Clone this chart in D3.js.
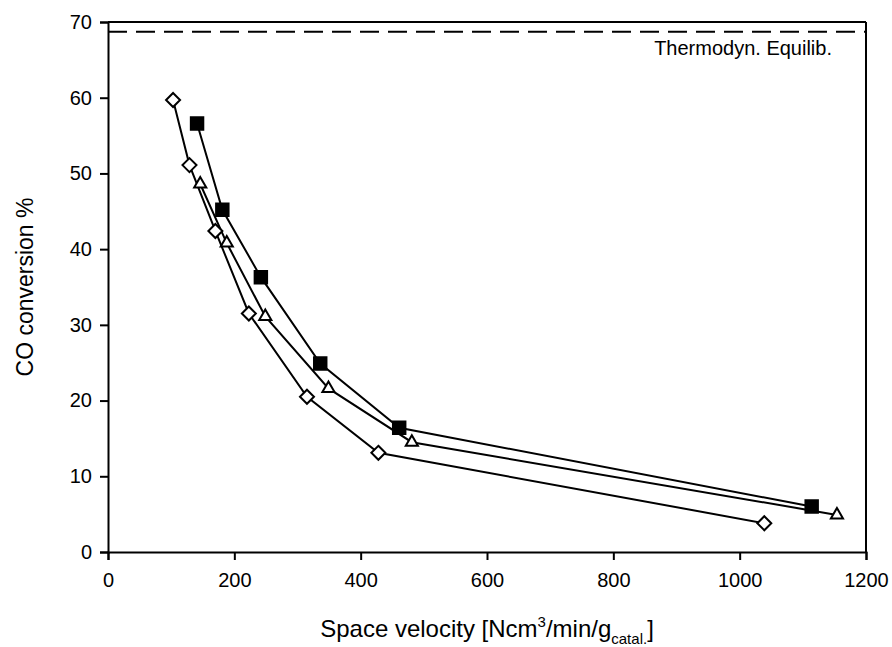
<!DOCTYPE html>
<html>
<head>
<meta charset="utf-8">
<script src="https://cdn.jsdelivr.net/npm/d3@7"></script>
<style>
  body { margin: 0; background: #fff; }
  text { font-family: "Liberation Sans", Arial, sans-serif; fill: #000; }
</style>
</head>
<body>
<div id="chart"></div>
<script>
// data
const diamondX = [103, 129, 170, 223, 315, 428, 1039];
const diamondY = [59.7, 51.1, 42.4, 31.5, 20.5, 13.1, 3.8];
const squareX = [141, 181, 242, 336, 461, 1114];
const squareY = [56.6, 45.2, 36.3, 24.9, 16.4, 6.0];
const triangleX = [146, 188, 249, 349, 481, 1154];
const triangleY = [48.6, 40.8, 31.1, 21.6, 14.5, 4.9];
const equilibrium = 68.7;
const xTicks = [0, 200, 400, 600, 800, 1000, 1200];
const yTicks = [0, 10, 20, 30, 40, 50, 60, 70];

const width = 892, height = 647;
const margin = { top: 22, right: 26, bottom: 95, left: 108 };
const w = width - margin.left - margin.right;
const h = height - margin.top - margin.bottom;

const svg = d3.select('#chart').append('svg')
  .attr('width', width).attr('height', height);
const g = svg.append('g').attr('transform', `translate(${margin.left},${margin.top})`);

const x = d3.scaleLinear().domain([0, 1200]).range([0, w]);
const y = d3.scaleLinear().domain([0, 70]).range([h, 0]);

// frame top/right
g.append('line').attr('x1', 0).attr('x2', w).attr('y1', 0).attr('y2', 0)
  .attr('stroke', '#000').attr('stroke-width', 2);
g.append('line').attr('x1', w).attr('x2', w).attr('y1', 0).attr('y2', h)
  .attr('stroke', '#000').attr('stroke-width', 2);

const xAxis = g.append('g').attr('transform', `translate(0,${h})`)
  .call(d3.axisBottom(x).tickValues(xTicks).tickSize(8).tickPadding(13).tickFormat(d3.format('d')));
const yAxis = g.append('g')
  .call(d3.axisLeft(y).tickValues(yTicks).tickSize(8).tickPadding(8).tickFormat(d3.format('d')));
[xAxis, yAxis].forEach(a => {
  a.select('.domain').attr('stroke-width', 2);
  a.selectAll('.tick line').attr('stroke-width', 2);
  a.selectAll('.tick text').style('font-family', '"Liberation Sans", Arial, sans-serif')
    .style('font-size', '20px');
});

// equilibrium line
g.append('line').attr('x1', x(0)).attr('x2', x(1200))
  .attr('y1', y(equilibrium)).attr('y2', y(equilibrium))
  .attr('stroke', '#000').attr('stroke-width', 2).attr('stroke-dasharray', '19,9');
g.append('text').attr('x', x(1200) - 34).attr('y', y(equilibrium) + 23)
  .attr('text-anchor', 'end').style('font-size', '20px').text('Thermodyn. Equilib.');

const line = d3.line().x(d => x(d[0])).y(d => y(d[1]));
const series = [
  { pts: d3.zip(diamondX, diamondY), sym: d3.symbolDiamond2, size: 125, fill: '#fff' },
  { pts: d3.zip(squareX, squareY), sym: d3.symbolSquare, size: 155, fill: '#000' },
  { pts: d3.zip(triangleX, triangleY), sym: d3.symbolTriangle2, size: 105, fill: '#fff' }
];

series.forEach(s => {
  g.append('path').datum(s.pts).attr('d', line)
    .attr('fill', 'none').attr('stroke', '#000').attr('stroke-width', 2);
});
series.forEach(s => {
  g.selectAll(null).data(s.pts).enter().append('path')
    .attr('transform', d => `translate(${x(d[0])},${y(d[1])})`)
    .attr('d', d3.symbol().type(s.sym).size(s.size))
    .attr('fill', s.fill).attr('stroke', '#000').attr('stroke-width', 2);
});

// axis titles
const xt = svg.append('text').attr('x', margin.left + w / 2).attr('y', 637)
  .attr('text-anchor', 'middle').style('font-size', '24px');
xt.append('tspan').text('Space velocity [Ncm');
xt.append('tspan').attr('dy', -10).style('font-size', '15px').text('3');
xt.append('tspan').attr('dy', 10).text('/min/g');
xt.append('tspan').attr('dy', 7).style('font-size', '15px').text('catal.');
xt.append('tspan').attr('dy', -7).text(']');

svg.append('text').attr('transform', `translate(33,${margin.top + h / 2}) rotate(-90)`)
  .attr('text-anchor', 'middle').style('font-size', '23px').text('CO conversion %');
</script>
</body>
</html>
